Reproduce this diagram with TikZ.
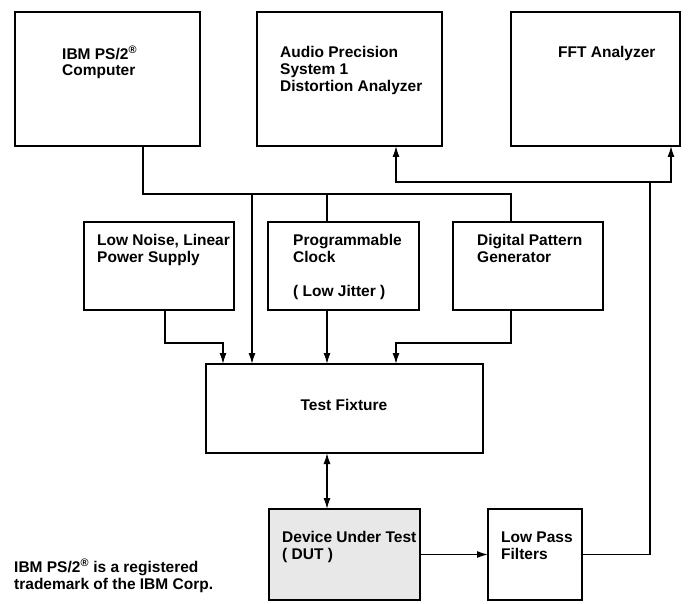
\documentclass[tikz,border=0pt]{standalone}
\usepackage{fontspec}
\setmainfont{Liberation Sans}
\usetikzlibrary{arrows.meta}

\tikzset{
  blk/.style={draw, line width=2.4pt, anchor=north west, inner sep=0pt, outer sep=0pt},
  lbl/.style={anchor=north west, align=left, inner sep=0pt, font=\fontsize{15.5}{17}\selectfont\bfseries},
  wire/.style={line width=1.4pt},
  arr/.style={wire, -{Latex[length=11pt,width=7pt]}},
}

\begin{document}
\begin{tikzpicture}[x=1pt,y=-1pt]
    \useasboundingbox (0,0) rectangle (694,604);

    % instruments
    \node[blk, minimum width=185, minimum height=134] (ibm) at (15,12) {};
    \node[blk, minimum width=185, minimum height=134] (ap) at (257,12) {};
    \node[blk, minimum width=169, minimum height=134] (fft) at (511,12) {};
    \node[lbl] (ibmtxt) at (62,46) {IBM PS/2\textsuperscript{\textregistered}\\Computer};
    \node[lbl] (aptxt) at (280,46) {Audio Precision\\System 1\\Distortion Analyzer};
    \node[lbl] (ffttxt) at (558,46) {FFT Analyzer};

    % sources
    \node[blk, minimum width=150, minimum height=88] (lns) at (84,222) {};
    \node[blk, minimum width=151, minimum height=88] (clk) at (268,222) {};
    \node[blk, minimum width=150, minimum height=88] (dpg) at (453,222) {};
    \node[lbl] (lnstxt) at (97,234) {Low Noise, Linear\\Power Supply};
    \node[lbl] (clktxt) at (293,234) {Programmable\\Clock\\[17pt]( Low Jitter )};
    \node[lbl] (dpgtxt) at (477,234) {Digital Pattern\\Generator};

    % fixture, DUT and filters
    \node[blk, minimum width=277, minimum height=89] (fix) at (206,364) {};
    \node[blk, minimum width=151, minimum height=91, fill=black!9] (dut) at (269,509) {};
    \node[blk, minimum width=94, minimum height=91] (lpf) at (488,509) {};
    \node[lbl, anchor=center] (fixtxt) at (344,405) {Test Fixture};
    \node[lbl] (duttxt) at (282,531) {Device Under Test\\( DUT )};
    \node[lbl] (lpftxt) at (501,532) {Low Pass\\Filters};

    \node[lbl] (note) at (14,559) {IBM PS/2\textsuperscript{\textregistered} is a registered\\trademark of the IBM Corp.};

    % computer bus
    \coordinate (tapibm) at (143,194);
    \coordinate (tapfix) at (252,194);
    \coordinate (tapclk) at (327,194);
    \coordinate (tapdpg) at (511,194);
    \draw[wire] (ibm.south -| tapibm) -- (tapibm) -- (tapdpg) -- (dpg.north -| tapdpg);
    \draw[wire] (tapclk) -- (clk.north -| tapclk);
    \draw[arr] (tapfix) -- (fix.north -| tapfix);

    % into the fixture
    \coordinate (lnsbend) at (165,343);
    \coordinate (dpgbend) at (511,343);
    \coordinate (fixin1) at (223,364);
    \coordinate (fixin4) at (396,364);
    \draw[arr] (lns.south -| lnsbend) -- (lnsbend) -| (fixin1);
    \draw[arr] (clk.south -| tapclk) -- (fix.north -| tapclk);
    \draw[arr] (dpg.south -| dpgbend) -- (dpgbend) -| (fixin4);
    \draw[wire, {Latex[length=11pt,width=7pt]}-{Latex[length=11pt,width=7pt]}] (fix.south -| tapclk) -- (dut.north -| tapclk);

    % back to the analyzers
    \coordinate (tap) at (650,182);
    \coordinate (apin) at (396,146);
    \coordinate (fftin) at (671,146);
    \draw[arr] (dut.east) -- (lpf.west);
    \draw[wire] (lpf.east) -| (tap);
    \draw[arr] (tap) -| (apin);
    \draw[arr] (tap) -| (fftin);

\end{tikzpicture}
\end{document}
